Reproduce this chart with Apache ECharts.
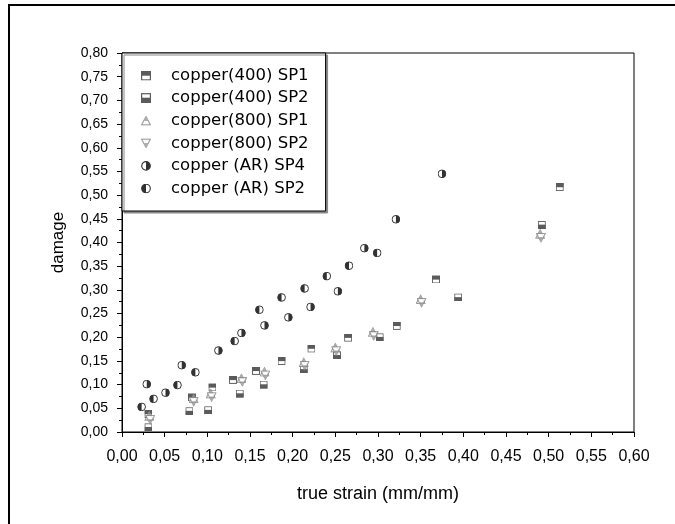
<!DOCTYPE html>
<html>
<head>
<meta charset="utf-8">
<script src="https://cdn.jsdelivr.net/npm/echarts@6/dist/echarts.min.js"></script>
<style>
  html, body { margin: 0; padding: 0; background: #fff; }
  #chart { width: 675px; height: 524px; }
</style>
</head>
<body>
<div id="chart"></div>
<script>
// values: [true strain, damage]
var cu400_sp1 = [[0.031,0.038],[0.082,0.073],[0.106,0.094],[0.130,0.110],[0.157,0.129],[0.187,0.150],
                 [0.222,0.176],[0.265,0.199],[0.322,0.224],[0.368,0.322],[0.513,0.517]];
var cu400_sp2 = [[0.031,0.010],[0.079,0.044],[0.101,0.046],[0.138,0.081],[0.166,0.100],[0.213,0.132],
                 [0.252,0.162],[0.302,0.200],[0.394,0.284],[0.492,0.437]];
var cu800_sp1 = [[0.032,0.034],[0.084,0.071],[0.104,0.081],[0.140,0.113],[0.167,0.127],[0.213,0.147],
                 [0.250,0.178],[0.294,0.211],[0.350,0.280],[0.490,0.418]];
var cu800_sp2 = [[0.033,0.026],[0.084,0.064],[0.105,0.074],[0.141,0.106],[0.168,0.120],[0.214,0.140],
                 [0.251,0.171],[0.295,0.203],[0.351,0.273],[0.491,0.410]];
var cuAR_sp4 = [[0.029,0.101],[0.051,0.083],[0.070,0.141],[0.113,0.172],[0.140,0.209],[0.167,0.225],
                [0.195,0.242],[0.221,0.264],[0.253,0.297],[0.284,0.388],[0.321,0.449],[0.375,0.545]];
var cuAR_sp2 = [[0.023,0.053],[0.037,0.070],[0.065,0.099],[0.086,0.126],[0.132,0.192],[0.161,0.258],
                [0.187,0.284],[0.214,0.303],[0.240,0.329],[0.266,0.351],[0.299,0.378]];

var names = ['copper(400) SP1','copper(400) SP2','copper(800) SP1','copper(800) SP2','copper (AR) SP4','copper (AR) SP2'];

// marker pictures
function svgSym(body){
    var s = "<svg xmlns='http://www.w3.org/2000/svg' width='20' height='20' viewBox='0 0 10 10'>" + body + "</svg>";
    return 'image://data:image/svg+xml;charset=utf-8,' + encodeURIComponent(s);
}
var sqTop = svgSym("<rect x='0.6' y='0.6' width='8.8' height='8.8' fill='#fff' stroke='#333' stroke-width='1.2'/><rect x='0' y='0' width='10' height='5.2' fill='#333'/>");
var sqBot = svgSym("<rect x='0.6' y='0.6' width='8.8' height='8.8' fill='#fff' stroke='#333' stroke-width='1.2'/><rect x='0' y='4.6' width='10' height='5.4' fill='#333'/>");
var triUp = svgSym("<polygon points='5,0.8 9.4,9.2 0.6,9.2' fill='#fff' stroke='#888' stroke-width='1.1'/><polygon points='5,0.8 7.4,5.4 2.6,5.4' fill='#999'/>");
var triDn = svgSym("<polygon points='0.6,0.8 9.4,0.8 5,9.2' fill='#fff' stroke='#888' stroke-width='1.1'/><polygon points='2.6,4.6 7.4,4.6 5,9.2' fill='#999'/>");
var cirR = svgSym("<circle cx='5' cy='5' r='4.3' fill='#fff' stroke='#000' stroke-width='1.1'/><path d='M5,0.7 A4.3,4.3 0 0,1 5,9.3 Z' fill='#000'/>");
var cirL = svgSym("<circle cx='5' cy='5' r='4.3' fill='#fff' stroke='#000' stroke-width='1.1'/><path d='M5,0.7 A4.3,4.3 0 0,0 5,9.3 Z' fill='#000'/>");

function fmt(v){ return v.toFixed(2).replace('.', ','); }

var myChart = echarts.init(document.getElementById('chart'));

var option = {
    animation: false,
    backgroundColor: '#fff',
    textStyle: { fontFamily: 'Liberation Sans, Arial, sans-serif', color: '#000' },
    graphic: [{
        type: 'rect',
        shape: { x: 9, y: 5, width: 700, height: 600 },
        style: { fill: null, stroke: '#000', lineWidth: 2 },
        silent: true
    }],
    grid: {
        left: 122, right: 41, top: 53, bottom: 92,
        show: true, borderColor: '#000', borderWidth: 1
    },
    legend: {
        orient: 'vertical',
        left: 122, top: 53,
        padding: [13, 17, 13, 4],
        itemWidth: 40, itemHeight: 10, itemGap: 3.6,
        backgroundColor: '#fff',
        borderColor: '#000', borderWidth: 1,
        shadowColor: '#888', shadowOffsetX: 2, shadowOffsetY: 2, shadowBlur: 0,
        textStyle: { fontFamily: 'DejaVu Sans', fontSize: 16.5, lineHeight: 19, color: '#000' },
        data: names
    },
    xAxis: {
        type: 'value', min: 0, max: 0.6, interval: 0.05,
        name: 'true strain (mm/mm)', nameLocation: 'middle', nameGap: 53,
        nameTextStyle: { fontSize: 18, color: '#000' },
        axisLine: { lineStyle: { color: '#000', width: 1 } },
        axisTick: { length: 5, lineStyle: { color: '#000' } },
        minorTick: { show: true, splitNumber: 2, length: 3, lineStyle: { color: '#000' } },
        splitLine: { show: false },
        axisLabel: { fontSize: 16, margin: 17, color: '#000', formatter: fmt }
    },
    yAxis: {
        type: 'value', min: 0, max: 0.8, interval: 0.05,
        name: 'damage', nameLocation: 'middle', nameGap: 55,
        nameTextStyle: { fontSize: 17, color: '#000' },
        axisLine: { lineStyle: { color: '#000', width: 1 } },
        axisTick: { length: 5, lineStyle: { color: '#000' } },
        minorTick: { show: true, splitNumber: 2, length: 3, lineStyle: { color: '#000' } },
        splitLine: { show: false },
        axisLabel: { fontSize: 14, margin: 14, color: '#000', formatter: fmt }
    },
    series: [
        { name: names[0], type: 'scatter', data: cu400_sp1, symbol: sqTop, symbolSize: 8 },
        { name: names[1], type: 'scatter', data: cu400_sp2, symbol: sqBot, symbolSize: 8 },
        { name: names[2], type: 'scatter', data: cu800_sp1, symbol: triUp, symbolSize: 10 },
        { name: names[3], type: 'scatter', data: cu800_sp2, symbol: triDn, symbolSize: 10 },
        { name: names[4], type: 'scatter', data: cuAR_sp4, symbol: cirR, symbolSize: 9 },
        { name: names[5], type: 'scatter', data: cuAR_sp2, symbol: cirL, symbolSize: 9 }
    ]
};
myChart.setOption(option);
</script>
</body>
</html>
